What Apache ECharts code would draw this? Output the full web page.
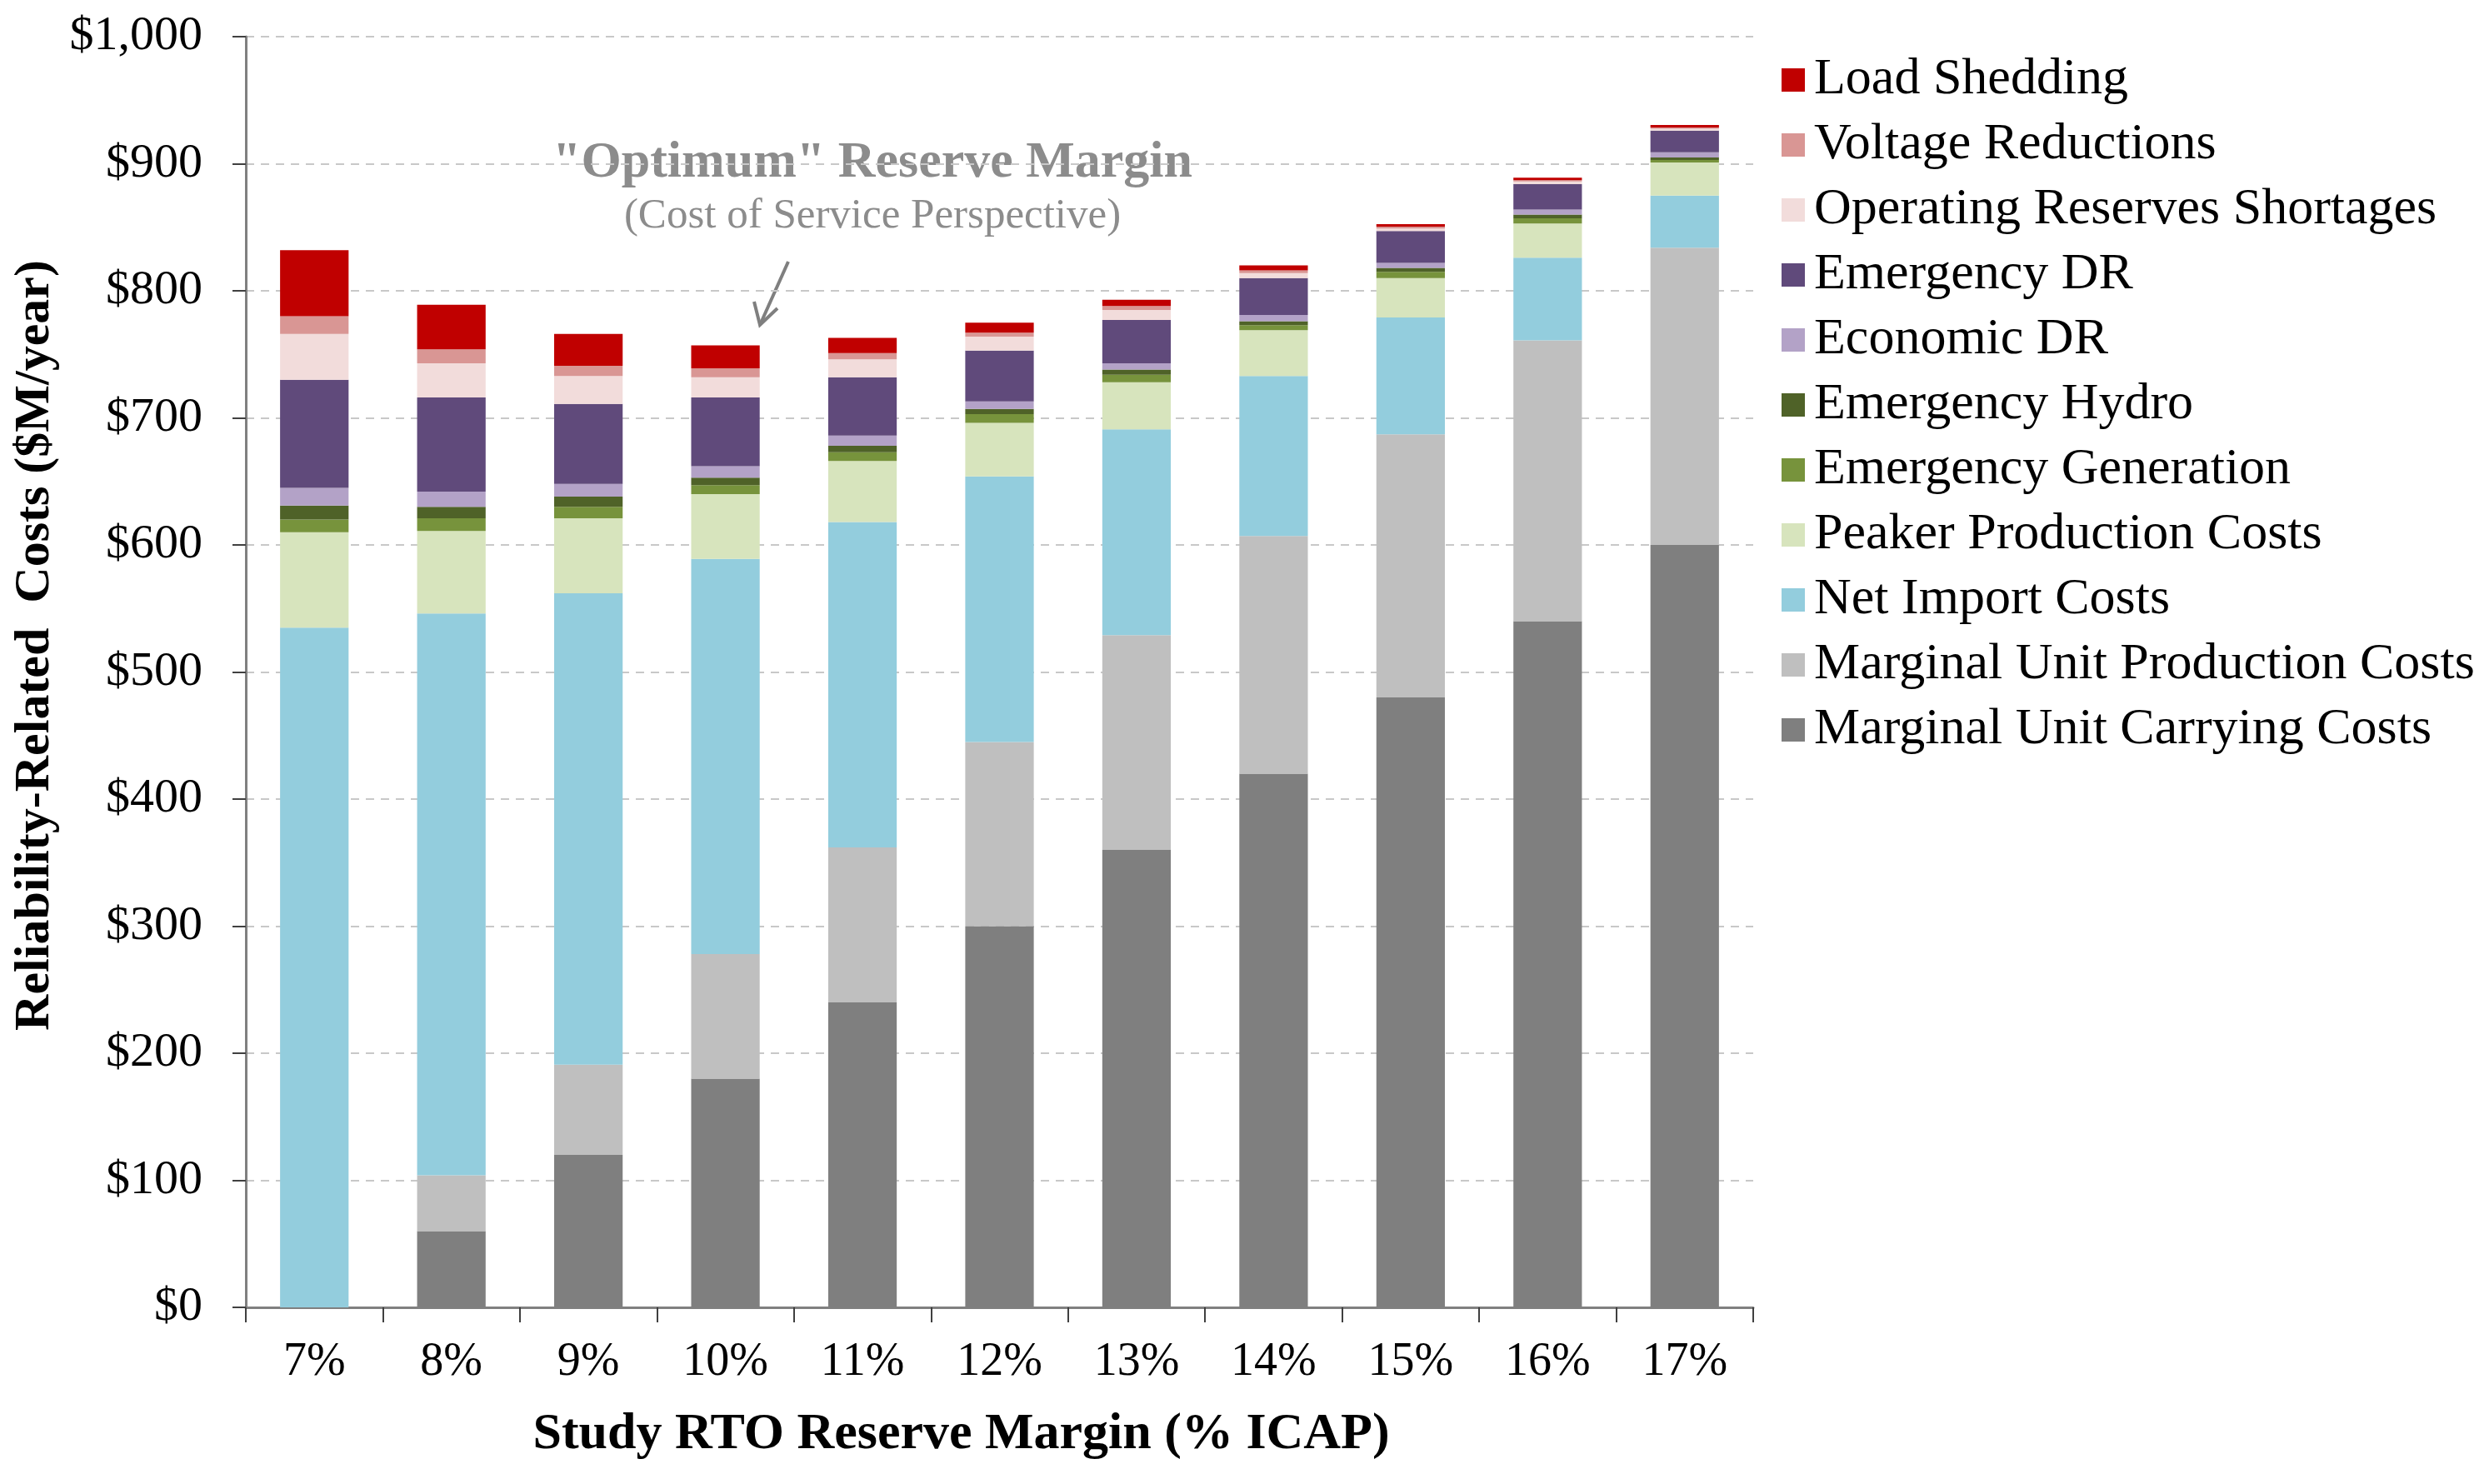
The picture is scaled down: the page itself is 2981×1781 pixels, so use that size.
<!DOCTYPE html>
<html>
<head>
<meta charset="utf-8">
<script src="https://cdn.jsdelivr.net/npm/echarts@6/dist/echarts.min.js"></script>
<style>
  html, body { margin: 0; padding: 0; background: #fff; }
  #chart { width: 2981px; height: 1781px; }
</style>
</head>
<body>
<div id="chart"></div>
<script>
const categories = ['7%', '8%', '9%', '10%', '11%', '12%', '13%', '14%', '15%', '16%', '17%']

// $M/year
const carrying    = [0, 60, 120, 180, 240, 300, 360, 420, 480, 540, 600]
const production  = [0, 44, 71, 98, 122, 145, 169, 187, 207, 221, 234]
const netImport   = [535, 442, 371, 311, 256, 209, 162, 126, 92, 65, 41]
const peaker      = [75, 65, 59, 51, 48, 42, 37, 36, 31, 27, 26]
const emGen       = [10, 10, 9, 7, 7, 7, 6, 4, 5, 4, 2]
const emHydro     = [11, 9, 8, 6, 5, 4, 4, 3, 3, 3, 2]
const econDR      = [14, 12, 10, 9, 8, 6, 5, 5, 4, 4, 4]
const emDR        = [85, 74, 63, 54, 46, 40, 34, 29, 25, 20, 17]
const opReserves  = [36, 27, 22, 16, 14, 11, 8, 4, 2, 2, 1.5]
const voltage     = [14, 11, 8, 7, 5, 3, 3, 2, 1.5, 1, 1]
const loadShed    = [52, 35, 25, 18, 12, 8, 5, 4, 2, 2, 2]

const yTicks = [0, 100, 200, 300, 400, 500, 600, 700, 800, 900, 1000]

const seriesDefs = [
  { name: 'Marginal Unit Carrying Costs', data: carrying, color: '#7f7f7f' },
  { name: 'Marginal Unit Production Costs', data: production, color: '#bfbfbf' },
  { name: 'Net Import Costs', data: netImport, color: '#93cddd' },
  { name: 'Peaker Production Costs', data: peaker, color: '#d7e4bd' },
  { name: 'Emergency Generation', data: emGen, color: '#77933c' },
  { name: 'Emergency Hydro', data: emHydro, color: '#4f6228' },
  { name: 'Economic DR', data: econDR, color: '#b3a2c7' },
  { name: 'Emergency DR', data: emDR, color: '#604a7b' },
  { name: 'Operating Reserves Shortages', data: opReserves, color: '#f2dcdb' },
  { name: 'Voltage Reductions', data: voltage, color: '#d99694' },
  { name: 'Load Shedding', data: loadShed, color: '#c00000' }
]

const font = 'Liberation Serif'
const chart = echarts.init(document.getElementById('chart'))

chart.setOption({
  animation: false,
  textStyle: { fontFamily: font },
  grid: { left: 295, right: 877, top: 44, bottom: 212 },
  legend: {
    orient: 'vertical',
    left: 2133,
    top: 60,
    itemWidth: 28,
    itemHeight: 28,
    itemGap: 16,
    icon: 'rect',
    data: seriesDefs.map(s => s.name).reverse(),
    textStyle: { fontFamily: font, fontSize: 62, color: '#000', lineHeight: 60, padding: [0, 0, 0, 6] }
  },
  xAxis: {
    type: 'category',
    data: categories,
    name: 'Study RTO Reserve Margin (% ICAP)',
    nameLocation: 'middle',
    nameGap: 122,
    nameTextStyle: { fontFamily: font, fontSize: 62, fontWeight: 'bold', color: '#000', padding: [0, 92, 0, 0] },
    axisLine: { lineStyle: { color: '#808080', width: 3 } },
    axisTick: { show: true, length: 18, lineStyle: { color: '#404040', width: 2 } },
    axisLabel: { fontFamily: font, fontSize: 56, color: '#000', margin: 38 }
  },
  yAxis: {
    type: 'value',
    min: 0,
    max: 1000,
    interval: 100,
    name: 'Reliability-Related  Costs ($M/year)',
    nameLocation: 'middle',
    nameRotate: 90,
    nameGap: 208,
    nameTextStyle: { fontFamily: font, fontSize: 60, fontWeight: 'bold', color: '#000', padding: [0, 0, 0, 64] },
    axisLine: { show: true, lineStyle: { color: '#808080', width: 3 } },
    axisTick: { show: true, length: 16, lineStyle: { color: '#404040', width: 2 } },
    axisLabel: {
      fontFamily: font,
      fontSize: 58,
      color: '#000',
      margin: 52,
      formatter: v => yTicks.includes(v) ? '$' + v.toLocaleString('en-US') : ''
    },
    splitLine: { show: true, lineStyle: { color: '#c8c8c8', width: 2, type: [10, 8] } }
  },
  series: seriesDefs.map(s => ({
    name: s.name,
    type: 'bar',
    stack: 'total',
    barWidth: '50%',
    data: s.data,
    itemStyle: { color: s.color }
  })),
  graphic: [
    {
      type: 'text',
      x: 1047,
      y: 196,
      style: {
        text: '"Optimum" Reserve Margin',
        font: 'bold 62px "Liberation Serif"',
        fill: '#8c8c8c',
        align: 'center',
        verticalAlign: 'middle'
      }
    },
    {
      type: 'text',
      x: 1047,
      y: 260,
      style: {
        text: '(Cost of Service Perspective)',
        font: '51px "Liberation Serif"',
        fill: '#8c8c8c',
        align: 'center',
        verticalAlign: 'middle'
      }
    },
    {
      type: 'line',
      shape: { x1: 946, y1: 314, x2: 912, y2: 390 },
      style: { stroke: '#7f7f7f', lineWidth: 4 }
    },
    {
      type: 'polyline',
      shape: { points: [[905, 362], [912, 390], [933, 370]] },
      style: { stroke: '#7f7f7f', lineWidth: 4, fill: null }
    }
  ]
})
</script>
</body>
</html>
